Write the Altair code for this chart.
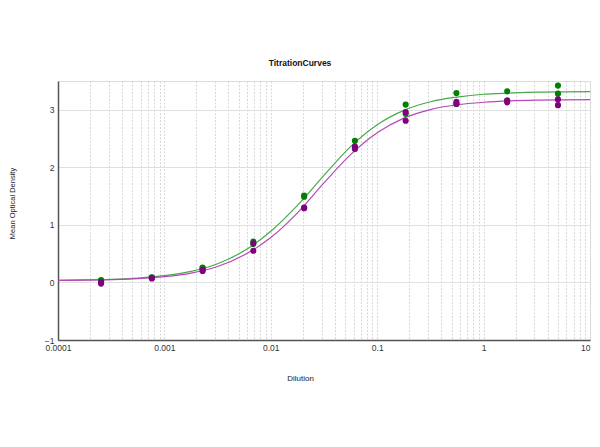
import altair as alt
import pandas as pd

# Sample dilutions (3-fold series)
dilution = [5, 1.667, 0.5556, 0.1852, 0.06173, 0.02058, 0.006859, 0.002286, 0.000762, 0.000254]

# Replicate optical densities, green series
green_rep1 = [3.42, 3.32, 3.29, 3.09, 2.46, 1.51, 0.71, 0.26, 0.09, 0.04]
green_rep2 = [3.28, 3.16, 3.10, 2.93, 2.32, 1.49, 0.67, 0.25, 0.08, 0.03]

# Replicate optical densities, purple series
purple_rep1 = [3.18, 3.16, 3.14, 2.96, 2.36, 1.30, 0.68, 0.22, 0.08, 0.00]
purple_rep2 = [3.08, 3.13, 3.10, 2.81, 2.33, 1.29, 0.55, 0.20, 0.07, -0.02]

# Fitted curves
curve_x = [0.0001, 0.000178, 0.000316, 0.000562, 0.001, 0.00178, 0.00316, 0.00562,
           0.01, 0.0178, 0.0316, 0.0562, 0.1, 0.178, 0.316, 0.562, 1, 1.78, 3.16, 5.62, 10]
green_curve = [0.037, 0.043, 0.054, 0.076, 0.117, 0.192, 0.325, 0.55, 0.89, 1.34, 1.86,
               2.36, 2.74, 2.99, 3.14, 3.22, 3.27, 3.29, 3.306, 3.312, 3.316]
purple_curve = [0.035, 0.040, 0.049, 0.066, 0.100, 0.162, 0.277, 0.476, 0.78, 1.21, 1.73,
                2.22, 2.60, 2.855, 3.004, 3.087, 3.131, 3.155, 3.167, 3.173, 3.177]

# Axis ticks
decades = [0.0001, 0.001, 0.01, 0.1, 1, 10]
minor_mult = [1, 2, 3, 4, 5, 6, 7, 8, 9]
y_ticks = [-1, 0, 1, 2, 3]

grid_values = [round(m * d, 8) for d in decades[:-1] for m in minor_mult] + [10]

green_pts = pd.DataFrame({"x": dilution * 2, "y": green_rep1 + green_rep2})
purple_pts = pd.DataFrame({"x": dilution * 2, "y": purple_rep1 + purple_rep2})
green_line = pd.DataFrame({"x": curve_x, "y": green_curve})
purple_line = pd.DataFrame({"x": curve_x, "y": purple_curve})

FONT = "Liberation Sans"

dec_str = "[" + ",".join(repr(d) for d in decades) + "]"
x_enc = alt.X(
    "x:Q",
    scale=alt.Scale(type="log", domain=[0.0001, 10], nice=False),
    axis=alt.Axis(
        values=grid_values,
        labelExpr=f"indexof({dec_str}, datum.value) >= 0 ? '' + datum.value : ''",
        labelAlign={"expr": "datum.value == 10 ? 'right' : 'center'"},
        title="Dilution",
        titleX=242, titleY=38, titleAlign="center", titleBaseline="middle",
        titleFont=FONT, titleFontSize=8, titleFontWeight="normal", titleColor="#222",
        labelFont=FONT, labelFontSize=8.5, labelColor="#333", labelPadding=3,
        labelOverlap=False, labelFlush=False,
        ticks=False, domainColor="#555", domainWidth=1.5,
        grid=True, gridColor="#d8d8d8", gridDash=[2, 1.5], gridWidth=1,
    ),
)
y_enc = alt.Y(
    "y:Q",
    scale=alt.Scale(domain=[-1, 3.5], nice=False, zero=False),
    axis=alt.Axis(
        values=y_ticks,
        format="d",
        title="Mean Optical Density",
        titleX=-45.5, titleY=122, titleAlign="center", titleBaseline="middle",
        titleFont=FONT, titleFontSize=7.5, titleFontWeight="normal", titleColor="#222",
        labelFont=FONT, labelFontSize=8.5, labelColor="#333", labelPadding=4,
        ticks=False, domainColor="#555", domainWidth=1.5,
        grid=True, gridColor="#e0e0e0", gridWidth=1,
    ),
)

gl = alt.Chart(green_line).mark_line(color="#4aa84a", strokeWidth=1.2, interpolate="monotone").encode(x=x_enc, y=y_enc)
pl = alt.Chart(purple_line).mark_line(color="#b548b5", strokeWidth=1.2, interpolate="monotone").encode(x="x:Q", y="y:Q")
gp = alt.Chart(green_pts).mark_circle(color="#008000", size=38, opacity=1).encode(x="x:Q", y="y:Q")
pp = alt.Chart(purple_pts).mark_circle(color="#800080", size=38, opacity=1).encode(x="x:Q", y="y:Q")

chart = alt.layer(gl, pl, gp, pp).properties(
    width=532,
    height=259,
    autosize=alt.AutoSizeParams(type="none"),
    padding={"left": 50, "top": 73, "right": 2, "bottom": 90},
    title=alt.TitleParams(
        "TitrationCurves", anchor="middle", frame="group", dx=-24, offset=14,
        font=FONT, fontSize=8.5, fontWeight="bold", color="#111",
    ),
).configure_view(stroke="#555", strokeWidth=1.5).configure(background="white")

chart.save("out.html", embed_options={"renderer": "svg", "actions": False})
